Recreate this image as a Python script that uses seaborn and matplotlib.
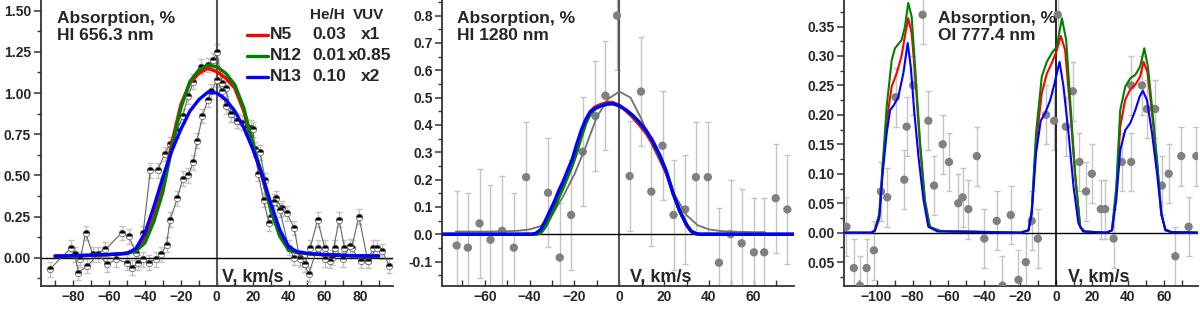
"""
plot.py
-------
Absorption profiles (HI 656.3 nm, HI 1280 nm, OI 777.4 nm) vs model curves.
"""

import matplotlib
matplotlib.use("Agg")
import matplotlib.pyplot as plt
import matplotlib.ticker as mticker
import seaborn as sns

# ── legend table ─────────────────────────────────────────────────────
MODELS = ["N5", "N12", "N13"]
HE_H = ["0.03", "0.01", "0.10"]
VUV = ["x1", "x0.85", "x2"]
COLORS = {"N5": "#ff0000", "N12": "#008000", "N13": "#0000ff"}

# ── panel 1: HI 656.3 nm ─────────────────────────────────────────────
V1_MOD = [-90, -85, -80, -75, -70, -65, -60, -55, -50, -45, -40, -35, -30,
          -25, -20, -15, -10, -5, 0, 5, 10, 15, 20, 25, 30, 35, 40, 45, 50,
          55, 60, 65, 70, 75, 80, 85, 90]
A1_N5 = [0.010, 0.010, 0.012, 0.013, 0.015, 0.017, 0.019, 0.022, 0.028,
         0.045, 0.11, 0.25, 0.43, 0.70, 0.93, 1.06, 1.12, 1.15, 1.13, 1.09,
         1.03, 0.89, 0.67, 0.50, 0.30, 0.14, 0.05, 0.03, 0.025, 0.021, 0.018,
         0.016, 0.014, 0.012, 0.011, 0.010, 0.010]
A1_N12 = [0.010, 0.010, 0.012, 0.013, 0.015, 0.017, 0.019, 0.022, 0.027,
          0.04, 0.09, 0.22, 0.40, 0.67, 0.91, 1.07, 1.14, 1.17, 1.16, 1.12,
          1.05, 0.91, 0.69, 0.51, 0.29, 0.13, 0.045, 0.03, 0.025, 0.021,
          0.018, 0.016, 0.014, 0.012, 0.011, 0.010, 0.010]
A1_N13 = [0.010, 0.010, 0.012, 0.013, 0.015, 0.017, 0.019, 0.022, 0.027,
          0.055, 0.15, 0.31, 0.49, 0.65, 0.78, 0.89, 0.96, 1.005, 1.00, 0.96,
          0.89, 0.79, 0.66, 0.51, 0.33, 0.17, 0.065, 0.035, 0.027, 0.022,
          0.019, 0.016, 0.014, 0.012, 0.011, 0.010, 0.010]

V1_A = [-93, -81, -76, -73, -69, -62, -53, -49, -45, -41, -37, -33, -29, -26,
        -22, -19, -16, -13, -9, -5, -2, 0, 3, 5, 8, 11, 16, 19, 21, 24, 27, 30,
        33, 36, 39, 43, 46, 49, 52, 56, 60, 64, 68, 71, 75, 79, 84, 87, 92, 96]
A1_A = [-0.07, 0.06, -0.01, 0.15, 0.02, 0.05, 0.15, 0.13, 0.03, 0.15, 0.53,
        0.53, 0.63, 0.69, 0.77, 0.86, 0.98, 1.07, 1.16, 1.17, 1.20, 1.25, 1.06,
        1.03, 0.87, 0.83, 0.80, 0.79, 0.66, 0.64, 0.47, 0.25, 0.36, 0.30, 0.27,
        0.18, 0.00, -0.04, 0.06, 0.23, 0.06, 0.00, 0.23, 0.06, 0.06, 0.25,
        -0.02, 0.06, 0.04, -0.05]
V1_B = [-79, -77, -72, -66, -61, -56, -50, -47, -44, -41, -38, -34, -31, -28,
        -26, -22, -19, -16, -13, -11, -8, -5, -3, 0, 3, 5, 8, 11, 14, 17, 20,
        23, 26, 29, 32, 35, 40, 43, 46, 49, 51, 56, 60, 63, 66, 70, 74, 80, 84,
        89]
A1_B = [0.02, -0.09, -0.05, 0.02, -0.04, -0.01, -0.03, -0.06, -0.03, -0.01,
        -0.03, -0.01, 0.02, 0.08, 0.23, 0.36, 0.48, 0.50, 0.58, 0.71, 0.86,
        0.96, 1.01, 1.08, 1.01, 0.92, 0.87, 0.83, 0.82, 0.79, 0.78, 0.51, 0.35,
        0.21, 0.34, 0.29, 0.06, 0.00, -0.01, -0.04, -0.10, 0.06, -0.01, -0.02,
        0.06, -0.01, 0.07, -0.02, -0.02, 0.06]
ERR1 = 0.045

# ── panel 2: HI 1280 nm ──────────────────────────────────────────────
V2_MOD = [-79, -39, -37, -35, -33, -31, -29, -27, -25, -23, -21, -19, -17,
          -15, -13, -11, -8, -5, -3, 0, 3, 6, 9, 12, 15, 18, 21, 24, 27, 30,
          32, 34, 36, 78]
A2_N5 = [0, 0, 0.002, 0.012, 0.038, 0.072, 0.108, 0.148, 0.185, 0.225, 0.265,
         0.315, 0.37, 0.415, 0.447, 0.465, 0.476, 0.482, 0.482, 0.472, 0.452,
         0.428, 0.40, 0.37, 0.33, 0.285, 0.225, 0.15, 0.085, 0.035, 0.012,
         0.003, 0, 0]
A2_N12 = [0, 0, 0.0, 0.006, 0.028, 0.06, 0.095, 0.135, 0.172, 0.212, 0.252,
          0.30, 0.355, 0.405, 0.44, 0.458, 0.472, 0.478, 0.478, 0.47, 0.455,
          0.433, 0.408, 0.378, 0.338, 0.29, 0.23, 0.15, 0.085, 0.035, 0.012,
          0.003, 0, 0]
A2_N13 = [0, 0, 0.005, 0.018, 0.05, 0.085, 0.12, 0.16, 0.195, 0.235, 0.275,
          0.33, 0.38, 0.42, 0.448, 0.46, 0.47, 0.476, 0.478, 0.47, 0.455, 0.435,
          0.41, 0.38, 0.34, 0.29, 0.23, 0.15, 0.085, 0.035, 0.012, 0.003, 0, 0]
V2_FIT = [-73, -60, -50, -45, -40, -35, -30, -25, -20, -15, -10, -5, 0, 5, 10,
          15, 20, 25, 30, 35, 40, 45, 50, 60, 65]
A2_FIT = [0.01, 0.01, 0.011, 0.013, 0.018, 0.03, 0.07, 0.14, 0.22, 0.32, 0.43,
          0.495, 0.522, 0.50, 0.42, 0.32, 0.235, 0.14, 0.07, 0.033, 0.018,
          0.012, 0.01, 0.008, 0.008]
V2_PTS = [-72.6, -67.6, -62.4, -57.5, -52.3, -47.1, -41.6, -31.8, -26.6, -21.5,
          -16.3, -10.7, -6.2, -1.0, 4.6, 9.7, 14.3, 19.3, 24.2, 29.4, 34.2,
          39.5, 44.5, 49.7, 54.6, 60.1, 64.7, 69.8, 75.0]
A2_PTS = [-0.041, -0.049, 0.040, -0.020, 0.013, -0.049, 0.209, 0.152, -0.085,
          0.071, 0.302, 0.433, 0.507, 0.80, 0.213, 0.522, 0.156, 0.324, 0.071,
          0.091, 0.209, 0.209, -0.104, 0.0, -0.033, -0.066, -0.066, 0.132,
          0.091]
ERR2 = 0.2

# ── panel 3: OI 777.4 nm ─────────────────────────────────────────────
V3_N5 = [-118, -103, -101, -98.5, -96.7, -94.4, -91.6, -88.8, -86.1, -84.2,
         -82.4, -80.5, -78.6, -75.9, -73.1, -70.3, -64.7, -20, -15.4, -13.6,
         -11.2, -8, -5.2, -2.4, 0.4, 2.6, 5.0, 7.8, 10.6, 13.4, 16, 28, 31.1,
         33.5, 35.7, 38.5, 41.3, 44.1, 46.8, 48.7, 50.9, 53.4, 56.2, 58.6,
         60.8, 64, 79]
A3_N5 = [0, 0, 0.004, 0.03, 0.105, 0.19, 0.248, 0.271, 0.30, 0.335, 0.364,
         0.339, 0.27, 0.15, 0.05, 0.009, 0.003, 0, 0.004, 0.035, 0.152, 0.237,
         0.27, 0.288, 0.31, 0.334, 0.31, 0.21, 0.095, 0.009, 0.002, 0, 0.004,
         0.067, 0.18, 0.226, 0.243, 0.251, 0.265, 0.29, 0.272, 0.203, 0.118,
         0.03, 0.006, 0.001, 0]
V3_N12 = [-118, -103, -101, -98.5, -96.7, -94.4, -91.6, -89.8, -86.1, -84.2,
          -82.4, -80.5, -78.6, -75.9, -73.1, -70.3, -64.7, -20, -15.4, -13.6,
          -11.2, -8, -5.2, -2.4, 0.4, 3.2, 5.6, 7.8, 10.6, 13.4, 16, 28, 31.1,
          33.5, 35.7, 38.5, 41.3, 44.1, 46.8, 49.1, 51.1, 53.4, 56.2, 58.6,
          60.8, 64, 79]
A3_N12 = [0, 0, 0.004, 0.033, 0.112, 0.214, 0.293, 0.313, 0.327, 0.35, 0.39,
          0.367, 0.282, 0.157, 0.056, 0.01, 0.003, 0.0, 0.004, 0.039, 0.169,
          0.265, 0.29, 0.305, 0.316, 0.364, 0.327, 0.225, 0.10, 0.01, 0.002,
          0.0, 0.004, 0.078, 0.208, 0.248, 0.262, 0.268, 0.282, 0.313, 0.282,
          0.214, 0.124, 0.033, 0.006, 0.001, 0]
V3_N13 = [-118, -103, -101, -98.5, -96.7, -94.4, -92.5, -90.3, -87.9, -85.1,
          -82.7, -81, -79.1, -76.7, -73.9, -71.2, -66, -20, -15.4, -13.6,
          -11.2, -8.6, -6.1, -3.3, -1.1, 1.9, 4.1, 6.9, 9.7, 12.4, 15, 28, 31.1,
          33.5, 35.7, 38.5, 41.3, 44.1, 46.5, 48.3, 50.6, 53.4, 56.2, 58.6,
          60.8, 64, 79]
A3_N13 = [0, 0, 0.003, 0.025, 0.10, 0.169, 0.208, 0.217, 0.231, 0.271, 0.322,
          0.282, 0.208, 0.129, 0.056, 0.01, 0.002, 0, 0.004, 0.033, 0.135, 0.19,
          0.203, 0.225, 0.251, 0.29, 0.248, 0.169, 0.078, 0.016, 0.002, 0,
          0.004, 0.056, 0.14, 0.174, 0.186, 0.208, 0.231, 0.241, 0.225, 0.169,
          0.101, 0.033, 0.004, 0.001, 0]
V3_PTS = [-116.8, -112.7, -109.3, -105.6, -101.5, -97.6, -94.1, -89.4, -84.6,
          -83.3, -79.6, -74.4, -71.2, -68, -63.2, -59.7, -54.5, -52.1, -48.9,
          -44.2, -40, -33.1, -29.9, -25.3, -21, -16.9, -13.6, -10.2, -5.6,
          -1.1, 0.9, 5.4, 9.3, 13, 16.7, 19.9, 24.9, 27.3, 32, 36.6, 41.8,
          41.8, 47.8, 50.6, 55.2, 58.9, 62.7, 66.4, 69.7, 73.8, 78.1]
A3_PTS = [0.01, -0.06, -0.09, -0.06, -0.03, 0.07, 0.06, 0.23, 0.09, 0.18,
          0.25, 0.37, 0.19, 0.08, 0.15, 0.12, 0.05, 0.06, 0.04, 0.13, -0.01,
          0.02, -0.09, 0.03, -0.08, -0.05, 0.02, -0.01, 0.20, 0.19, 0.37, 0.18,
          0.24, 0.12, 0.07, 0.10, 0.04, 0.04, -0.01, 0.12, 0.12, 0.25, 0.25,
          0.21, 0.21, 0.08, 0.10, -0.04, 0.13, 0.01, 0.13]
ERR3 = 0.05

# ── style ────────────────────────────────────────────────────────────
sns.set_style("ticks")
plt.rcParams["font.family"] = ["Liberation Sans", "DejaVu Sans"]
plt.rcParams["font.weight"] = "bold"
plt.rcParams["axes.labelweight"] = "bold"

ERR_KW = dict(fmt="none", ecolor="#c4c4c4", elinewidth=1.0, capsize=2.5,
              capthick=1.0, zorder=1)


def style_axis(ax, xlim, ylim, xmaj, ymaj, yfmt):
    ax.set_xlim(*xlim)
    ax.set_ylim(*ylim)
    ax.xaxis.set_major_locator(mticker.MultipleLocator(xmaj))
    ax.xaxis.set_minor_locator(mticker.MultipleLocator(xmaj / 2))
    ax.yaxis.set_major_locator(mticker.MultipleLocator(ymaj))
    ax.yaxis.set_minor_locator(mticker.MultipleLocator(ymaj / 2))
    ax.yaxis.set_major_formatter(yfmt)
    for s in ["top", "right"]:
        ax.spines[s].set_visible(False)
    for s in ["left", "bottom"]:
        ax.spines[s].set_color("#333333")
        ax.spines[s].set_linewidth(1.3)
    ax.tick_params(axis="y", which="major", direction="out", length=5,
                   width=1.1, labelsize=10, pad=2, color="#333333")
    ax.tick_params(axis="y", which="minor", direction="out", length=3,
                   width=1.0, color="#333333")
    ax.tick_params(axis="x", which="both", direction="in", length=4.5,
                   width=1.0, labelsize=10, pad=3, color="#333333")
    for lab in ax.get_xticklabels() + ax.get_yticklabels():
        lab.set_fontweight("bold")
    ax.set_xlabel("")
    ax.set_ylabel("")
    ax.axhline(0, color="black", lw=1.0, zorder=2)


def add_titles(ax, line2, x_title, x_v):
    ax.text(x_title, 0.962, "Absorption, %\n" + line2, transform=ax.transAxes,
            ha="left", va="top", fontsize=12.5, fontweight="bold",
            linespacing=1.2, zorder=6)
    ax.text(x_v, 0.014, "V, km/s", transform=ax.transAxes, ha="left",
            va="baseline", fontsize=13, fontweight="bold", zorder=6)


fig = plt.figure(figsize=(12, 3.12), dpi=100)
ax1 = fig.add_axes([0.0339, 0.0833, 0.2936, 0.9167])
ax2 = fig.add_axes([0.3686, 0.0843, 0.2931, 0.9157])
ax3 = fig.add_axes([0.7036, 0.0843, 0.2947, 0.9157])

# ── panel 1 ──────────────────────────────────────────────────────────
ax = ax1
ax.axvline(0, color="#555555", lw=1.5, zorder=2)
for vv, aa in [(V1_A, A1_A), (V1_B, A1_B)]:
    ax.errorbar(vv, aa, yerr=ERR1, **ERR_KW)
    sns.lineplot(x=vv, y=aa, ax=ax, color="#666666", lw=0.8, sort=False,
                 estimator=None, zorder=3)
    ax.plot(vv, aa, ls="none", marker="o", ms=4.6, fillstyle="top",
            markerfacecolor="black", markerfacecoloralt="white",
            markeredgecolor="#555555", markeredgewidth=0.5, zorder=4)
for m, aa in zip(MODELS, [A1_N5, A1_N12, A1_N13]):
    sns.lineplot(x=V1_MOD, y=aa, ax=ax, color=COLORS[m], lw=2.4, sort=False,
                 estimator=None, zorder=5)
style_axis(ax, (-98, 98), (-0.172, 1.565), 20, 0.25,
           mticker.FormatStrFormatter("%.2f"))
add_titles(ax, "HI 656.3 nm", 0.046, 0.515)

# custom legend table
ax.text(0.764, 0.948, "He/H", transform=ax.transAxes, ha="left",
        va="center", fontsize=11, fontweight="bold")
ax.text(0.886, 0.948, "VUV", transform=ax.transAxes, ha="left",
        va="center", fontsize=11, fontweight="bold")
for i, m in enumerate(MODELS):
    y = 0.878 - i * 0.0735
    ax.plot([0.586, 0.645], [y, y], transform=ax.transAxes,
            color=COLORS[m], lw=2.4, clip_on=False, zorder=6)
    ax.text(0.651, y, m, transform=ax.transAxes, ha="left", va="center",
            fontsize=12.5, fontweight="bold")
    ax.text(0.770, y, HE_H[i], transform=ax.transAxes, ha="left",
            va="center", fontsize=12.5, fontweight="bold")
    ax.text(0.935, y, VUV[i], transform=ax.transAxes, ha="center",
            va="center", fontsize=12.5, fontweight="bold")

# ── panel 2 ──────────────────────────────────────────────────────────
ax = ax2
ax.axvline(0, color="#555555", lw=1.5, zorder=2)
ax.errorbar(V2_PTS, A2_PTS, yerr=ERR2, **ERR_KW)
sns.scatterplot(x=V2_PTS, y=A2_PTS, ax=ax, color="#808080", s=36,
                edgecolor="none", zorder=3)
sns.lineplot(x=V2_FIT, y=A2_FIT, ax=ax, color="#707070", lw=1.3, sort=False,
             estimator=None, zorder=4)
for m, aa in zip(MODELS, [A2_N5, A2_N12, A2_N13]):
    sns.lineplot(x=V2_MOD, y=aa, ax=ax, color=COLORS[m], lw=2.4, sort=False,
                 estimator=None, zorder=5)
style_axis(ax, (-79, 78), (-0.188, 0.857), 20, 0.1,
           mticker.FormatStrFormatter("%.1f"))
add_titles(ax, "HI 1280 nm", 0.042, 0.534)

# ── panel 3 ──────────────────────────────────────────────────────────
ax = ax3
ax.axvline(0, color="black", lw=1.2, zorder=2)
ax.errorbar(V3_PTS, A3_PTS, yerr=ERR3, **ERR_KW)
sns.scatterplot(x=V3_PTS, y=A3_PTS, ax=ax, color="#808080", s=36,
                edgecolor="none", zorder=3)
for m, vv, aa in zip(MODELS, [V3_N5, V3_N12, V3_N13],
                     [A3_N5, A3_N12, A3_N13]):
    sns.lineplot(x=vv, y=aa, ax=ax, color=COLORS[m], lw=1.5, sort=False,
                 estimator=None, zorder=5)
style_axis(ax, (-118, 79), (-0.09, 0.395), 20, 0.05,
           mticker.FuncFormatter(lambda y, _: f"{abs(y):.2f}"))
add_titles(ax, "OI 777.4 nm", 0.265, 0.632)

for a in (ax1, ax2, ax3):
    leg = a.get_legend()
    if leg is not None:
        leg.remove()

fig.savefig("out.png", dpi=100)
